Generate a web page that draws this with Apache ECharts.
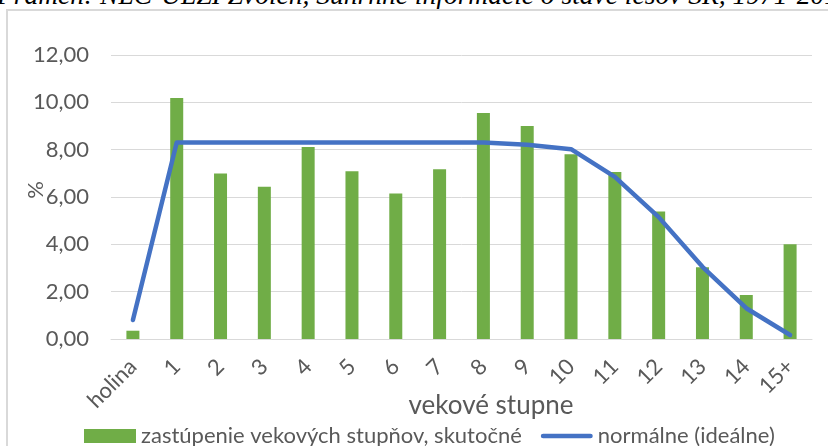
<!DOCTYPE html>
<html><head><meta charset="utf-8">
<script src="https://cdn.jsdelivr.net/npm/echarts@6/dist/echarts.min.js"></script>
<style>
html,body{margin:0;padding:0;background:#fff;overflow:hidden;width:828px;height:446px}
#frame{position:absolute;left:6px;top:9px;width:900px;height:600px;border:2px solid #D9D9D9;box-sizing:border-box}
#cap{position:absolute;left:-3px;top:-19px;font:italic 27.5px "Liberation Serif";white-space:nowrap;color:#000;line-height:28px}
#c{position:absolute;left:0;top:0;width:828px;height:446px}
</style></head><body>
<div id="cap">Prameň: NLC-ÚLZI Zvolen, Súhrnné informácie o stave lesov SR, 1971-2016</div>
<div id="frame"></div>
<div id="c"></div>
<script>
const categories = ['holina','1','2','3','4','5','6','7','8','9','10','11','12','13','14','15+'];
const actualShare = [0.35, 10.18, 6.99, 6.43, 8.11, 7.09, 6.15, 7.17, 9.55, 9.0, 7.81, 7.06, 5.39, 3.03, 1.86, 4.0];
const normalShare = [0.8, 8.3, 8.3, 8.3, 8.3, 8.3, 8.3, 8.3, 8.3, 8.21, 8.02, 6.85, 5.15, 3.05, 1.3, 0.17];
const seriesNames = ['zastúpenie vekových stupňov, skutočné', 'normálne (ideálne)'];
const xTitle = 'vekové stupne';
const yTitle = '%';

const FONT = 'Lato';
const GRAY = '#595959';
const chart = echarts.init(document.getElementById('c'), null, {renderer: 'canvas'});
chart.setOption({
  backgroundColor: 'transparent',
  animation: false,
  textStyle: {fontFamily: FONT},
  title: {
    text: xTitle, left: 486, top: 388, textAlign: 'center',
    textStyle: {fontFamily: FONT, fontSize: 26, fontWeight: 'normal', color: GRAY}
  },
  legend: {
    left: 79, top: 420, itemWidth: 52, itemHeight: 14, itemGap: 19,
    textStyle: {fontFamily: FONT, fontSize: 22, color: GRAY},
    data: [
      {name: seriesNames[0], icon: 'rect'},
      {name: seriesNames[1], icon: 'path://M0,0L0.01,0M2.5,4.5L52.5,4.5A2.5,2.5,0,0,1,52.5,9.5L2.5,9.5A2.5,2.5,0,0,1,2.5,4.5ZM55,14L55.01,14',
       itemStyle: {color: '#4472C4'}}
    ]
  },
  grid: {left: 111, right: 16, top: 55, bottom: 107, containLabel: false, outerBoundsMode: 'none'},
  xAxis: {
    type: 'category', data: categories,
    axisLine: {lineStyle: {color: '#D9D9D9', width: 1}},
    axisTick: {show: false},
    axisLabel: {rotate: 45, margin: 24, fontFamily: FONT, fontSize: 22, color: GRAY, interval: 0}
  },
  yAxis: {
    type: 'value', min: 0, max: 12, interval: 2,
    name: yTitle, nameLocation: 'middle', nameGap: 64, nameRotate: 90, nameMoveOverlap: false,
    nameTextStyle: {fontFamily: FONT, fontSize: 22, color: GRAY, padding: [0, 0, 0, 14]},
    axisLine: {show: false}, axisTick: {show: false},
    splitLine: {lineStyle: {color: '#D9D9D9', width: 1}},
    axisLabel: {margin: 22, fontFamily: FONT, fontSize: 22, color: GRAY,
      formatter: v => v.toFixed(2).replace('.', ',')}
  },
  series: [
    {name: seriesNames[0], type: 'bar', data: actualShare, barWidth: 13,
     itemStyle: {color: '#70AD47'}},
    {name: seriesNames[1], type: 'line', data: normalShare, symbol: 'none', showSymbol: false,
     lineStyle: {color: '#4472C4', width: 4.5, cap: 'round', join: 'round'},
     itemStyle: {color: '#4472C4'}}
  ]
});
</script>
</body></html>
